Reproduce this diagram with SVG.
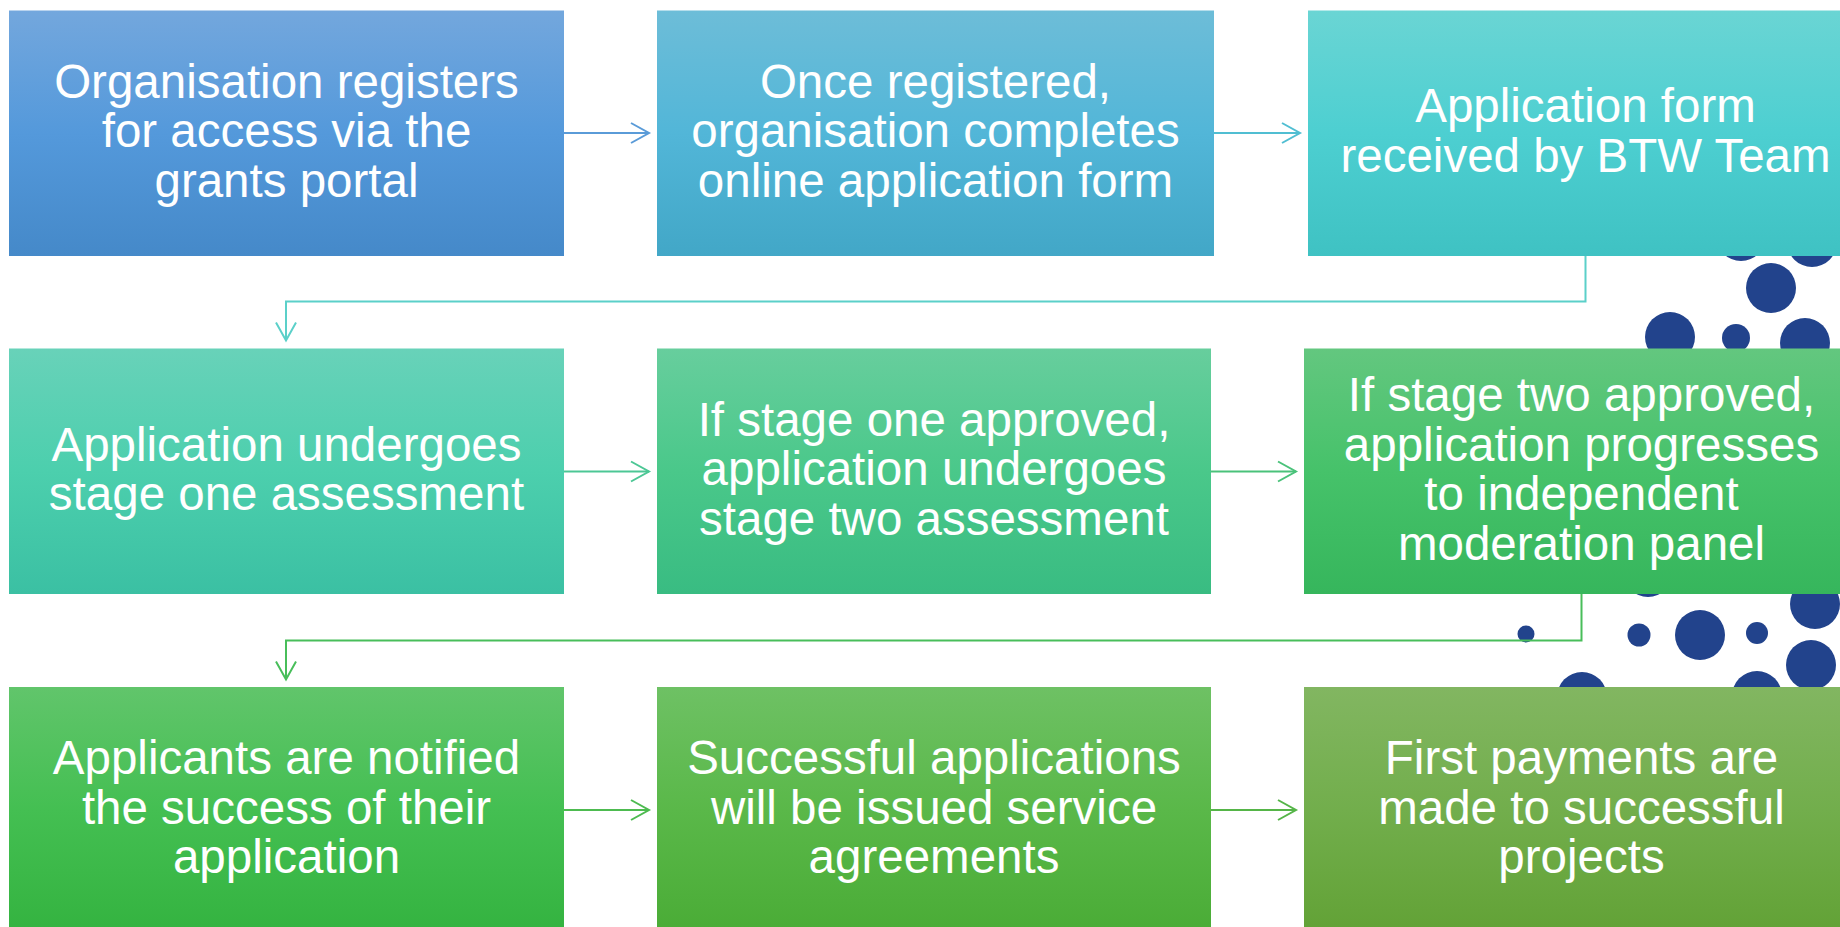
<svg xmlns="http://www.w3.org/2000/svg" width="1840" height="927" viewBox="0 0 1840 927">
<defs>
<style>
.t{font-family:"Liberation Sans",Arial,sans-serif;font-size:47.5px;fill:#ffffff;text-anchor:middle}
.c{fill:none;stroke-width:2}
.dot{fill:#22438C}
</style>
<linearGradient id="g1" x1="0" y1="0" x2="0" y2="1"><stop offset="0" stop-color="#73A7DD"/><stop offset="0.5" stop-color="#5499DB"/><stop offset="1" stop-color="#4589C9"/></linearGradient>
<linearGradient id="g2" x1="0" y1="0" x2="0" y2="1"><stop offset="0" stop-color="#6DBDD8"/><stop offset="0.5" stop-color="#52B6D8"/><stop offset="1" stop-color="#42A7C7"/></linearGradient>
<linearGradient id="g3" x1="0" y1="0" x2="0" y2="1"><stop offset="0" stop-color="#6AD5D4"/><stop offset="0.5" stop-color="#4DCFD1"/><stop offset="1" stop-color="#3FC2C3"/></linearGradient>
<linearGradient id="g4" x1="0" y1="0" x2="0" y2="1"><stop offset="0" stop-color="#68D2B9"/><stop offset="0.5" stop-color="#4CCFAD"/><stop offset="1" stop-color="#3BC0A3"/></linearGradient>
<linearGradient id="g5" x1="0" y1="0" x2="0" y2="1"><stop offset="0" stop-color="#67CE9D"/><stop offset="0.5" stop-color="#4AC88A"/><stop offset="1" stop-color="#39BC82"/></linearGradient>
<linearGradient id="g6" x1="0" y1="0" x2="0" y2="1"><stop offset="0" stop-color="#63C77F"/><stop offset="0.5" stop-color="#46C26A"/><stop offset="1" stop-color="#36B65C"/></linearGradient>
<linearGradient id="g7" x1="0" y1="0" x2="0" y2="1"><stop offset="0" stop-color="#61C56B"/><stop offset="0.5" stop-color="#44BF52"/><stop offset="1" stop-color="#34B340"/></linearGradient>
<linearGradient id="g8" x1="0" y1="0" x2="0" y2="1"><stop offset="0" stop-color="#6EC164"/><stop offset="0.5" stop-color="#5AB849"/><stop offset="1" stop-color="#4AAC36"/></linearGradient>
<linearGradient id="g9" x1="0" y1="0" x2="0" y2="1"><stop offset="0" stop-color="#82B661"/><stop offset="0.5" stop-color="#72AE4C"/><stop offset="1" stop-color="#62A236"/></linearGradient>
<marker id="m1" markerUnits="userSpaceOnUse" markerWidth="24" markerHeight="24" refX="20" refY="12" orient="auto"><path d="M2,2 L20,12 L2,22" fill="none" stroke="#5A9BD8" stroke-width="2"/></marker>
<marker id="m2" markerUnits="userSpaceOnUse" markerWidth="24" markerHeight="24" refX="20" refY="12" orient="auto"><path d="M2,2 L20,12 L2,22" fill="none" stroke="#50BED2" stroke-width="2"/></marker>
<marker id="m3" markerUnits="userSpaceOnUse" markerWidth="24" markerHeight="24" refX="20" refY="12" orient="auto"><path d="M2,2 L20,12 L2,22" fill="none" stroke="#5BD0C9" stroke-width="2"/></marker>
<marker id="m4" markerUnits="userSpaceOnUse" markerWidth="24" markerHeight="24" refX="20" refY="12" orient="auto"><path d="M2,2 L20,12 L2,22" fill="none" stroke="#4CC795" stroke-width="2"/></marker>
<marker id="m5" markerUnits="userSpaceOnUse" markerWidth="24" markerHeight="24" refX="20" refY="12" orient="auto"><path d="M2,2 L20,12 L2,22" fill="none" stroke="#4AC27A" stroke-width="2"/></marker>
<marker id="m6" markerUnits="userSpaceOnUse" markerWidth="24" markerHeight="24" refX="20" refY="12" orient="auto"><path d="M2,2 L20,12 L2,22" fill="none" stroke="#48BE5A" stroke-width="2"/></marker>
<marker id="m7" markerUnits="userSpaceOnUse" markerWidth="24" markerHeight="24" refX="20" refY="12" orient="auto"><path d="M2,2 L20,12 L2,22" fill="none" stroke="#4DBB50" stroke-width="2"/></marker>
<marker id="m8" markerUnits="userSpaceOnUse" markerWidth="24" markerHeight="24" refX="20" refY="12" orient="auto"><path d="M2,2 L20,12 L2,22" fill="none" stroke="#55B548" stroke-width="2"/></marker>
</defs>
<rect x="0" y="0" width="1840" height="927" fill="#ffffff"/>
<g id="dots">
<circle class="dot" cx="1741" cy="236" r="25"/>
<circle class="dot" cx="1812" cy="242" r="25"/>
<circle class="dot" cx="1771" cy="288" r="25"/>
<circle class="dot" cx="1670" cy="337" r="25"/>
<circle class="dot" cx="1736" cy="338" r="14"/>
<circle class="dot" cx="1805" cy="343" r="25"/>
<circle class="dot" cx="1648" cy="572" r="25"/>
<circle class="dot" cx="1815" cy="604" r="25"/>
<circle class="dot" cx="1526" cy="634" r="8.5"/>
<circle class="dot" cx="1639" cy="635" r="11.5"/>
<circle class="dot" cx="1700" cy="635" r="25"/>
<circle class="dot" cx="1757" cy="633" r="11"/>
<circle class="dot" cx="1811" cy="665" r="25"/>
<circle class="dot" cx="1582" cy="697" r="25"/>
<circle class="dot" cx="1757" cy="696" r="25"/>
</g>
<g id="connectors">
<path class="c" stroke="#5A9BD8" d="M564,133 H649" marker-end="url(#m1)"/>
<path class="c" stroke="#50BED2" d="M1214,133 H1300" marker-end="url(#m2)"/>
<path class="c" stroke="#5BD0C9" d="M1585.5,256 V301.5 H286 V340.5" marker-end="url(#m3)"/>
<path class="c" stroke="#4CC795" d="M564,471.5 H649" marker-end="url(#m4)"/>
<path class="c" stroke="#4AC27A" d="M1211,471.5 H1296" marker-end="url(#m5)"/>
<path class="c" stroke="#48BE5A" d="M1581.5,594 V640.5 H286 V679.5" marker-end="url(#m6)"/>
<path class="c" stroke="#4DBB50" d="M564,810 H649" marker-end="url(#m7)"/>
<path class="c" stroke="#55B548" d="M1211,810 H1296" marker-end="url(#m8)"/>
</g>
<g id="n1"><rect x="9" y="10.5" width="555" height="245.5" fill="url(#g1)"/>
<text class="t"><tspan x="286.5" y="97.5">Organisation registers</tspan><tspan x="286.5" y="147">for access via the</tspan><tspan x="286.5" y="196.5">grants portal</tspan></text></g>
<g id="n2"><rect x="657" y="10.5" width="557" height="245.5" fill="url(#g2)"/>
<text class="t"><tspan x="935.5" y="97.5">Once registered,</tspan><tspan x="935.5" y="147">organisation completes</tspan><tspan x="935.5" y="196.5">online application form</tspan></text></g>
<g id="n3"><rect x="1308" y="10.5" width="555" height="245.5" fill="url(#g3)"/>
<text class="t"><tspan x="1585.5" y="122.2">Application form</tspan><tspan x="1585.5" y="171.7">received by BTW Team</tspan></text></g>
<g id="n4"><rect x="9" y="348.5" width="555" height="245.5" fill="url(#g4)"/>
<text class="t"><tspan x="286.5" y="460.5">Application undergoes</tspan><tspan x="286.5" y="510">stage one assessment</tspan></text></g>
<g id="n5"><rect x="657" y="348.5" width="554" height="245.5" fill="url(#g5)"/>
<text class="t"><tspan x="934" y="435.7">If stage one approved,</tspan><tspan x="934" y="485.2">application undergoes</tspan><tspan x="934" y="534.7">stage two assessment</tspan></text></g>
<g id="n6"><rect x="1304" y="348.5" width="555" height="245.5" fill="url(#g6)"/>
<text class="t"><tspan x="1581.5" y="411">If stage two approved,</tspan><tspan x="1581.5" y="460.5">application progresses</tspan><tspan x="1581.5" y="510">to independent</tspan><tspan x="1581.5" y="559.5">moderation panel</tspan></text></g>
<g id="n7"><rect x="9" y="687" width="555" height="245.5" fill="url(#g7)"/>
<text class="t"><tspan x="286.5" y="774">Applicants are notified</tspan><tspan x="286.5" y="823.5">the success of their</tspan><tspan x="286.5" y="873">application</tspan></text></g>
<g id="n8"><rect x="657" y="687" width="554" height="245.5" fill="url(#g8)"/>
<text class="t"><tspan x="934" y="774">Successful applications</tspan><tspan x="934" y="823.5">will be issued service</tspan><tspan x="934" y="873">agreements</tspan></text></g>
<g id="n9"><rect x="1304" y="687" width="555" height="245.5" fill="url(#g9)"/>
<text class="t"><tspan x="1581.5" y="774">First payments are</tspan><tspan x="1581.5" y="823.5">made to successful</tspan><tspan x="1581.5" y="873">projects</tspan></text></g>
</svg>
